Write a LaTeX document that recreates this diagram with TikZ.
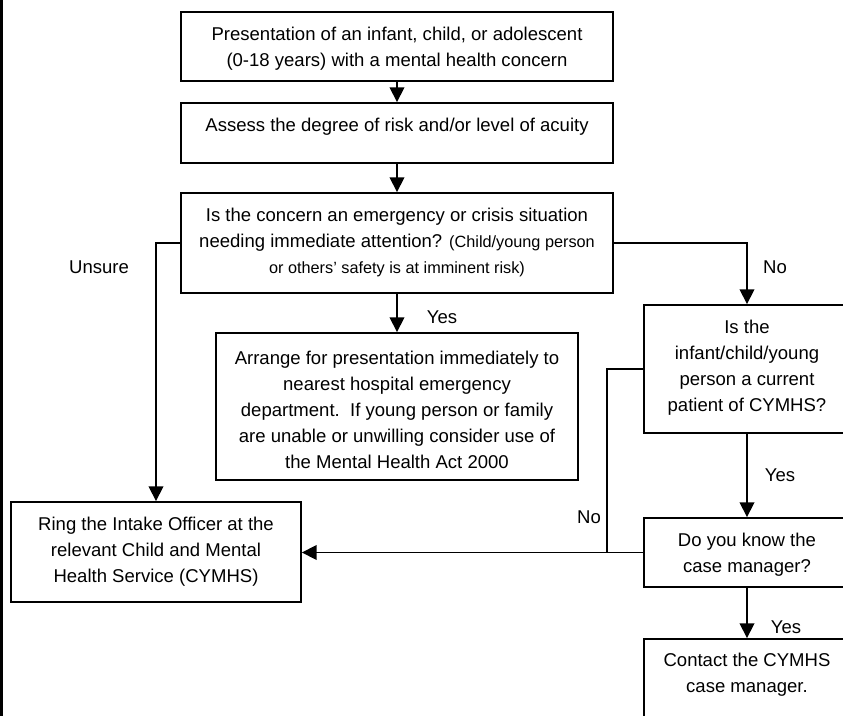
\documentclass[tikz,border=0pt]{standalone}
\usepackage{fontspec}
\setmainfont{Liberation Sans}
\usetikzlibrary{arrows.meta,fit}
\begin{document}
\begin{tikzpicture}[x=0.75pt,y=-0.75pt,
  box/.style={draw, line width=1.4pt, inner sep=0pt},
  txt/.style={align=center, font=\fontsize{13.9}{19.5}\selectfont, inner sep=0pt},
  lbl/.style={font=\fontsize{13.9}{19.5}\selectfont, inner sep=0pt},
  conn/.style={line width=1.2pt},
  arr/.style={conn, -{Triangle[length=11pt,width=11pt]}}]
\useasboundingbox (0,0) rectangle (843,716);
\clip (0,0) rectangle (843,716);
\fill[black] (0,0) rectangle (3,716);
% boxes
\node[box, fit={(181,12) (613,81)}] (b1) {};
\node[box, fit={(181,103) (613,163)}] (b2) {};
\node[box, fit={(181,193) (613,293)}] (b3) {};
\node[box, fit={(216,333) (578,480)}] (ba) {};
\node[box, fit={(11,502) (301,602)}] (br) {};
\node[box, fit={(644,305) (850,433)}] (bi) {};
\node[box, fit={(644,518) (850,587)}] (bd) {};
\node[box, fit={(644,639) (850,760)}] (bc) {};
% texts
\node[txt] (t1) at (397,48.5) {Presentation of an infant, child, or adolescent\\(0-18 years) with a mental health concern};
\node[txt] (t2) at (397,127) {Assess the degree of risk and/or level of acuity};
\node[txt] (t3) at (397,242) {Is the concern an emergency or crisis situation\\needing immediate attention? {\fontsize{12.2}{19.5}\selectfont(Child/young person}\\{\fontsize{12.2}{19.5}\selectfont or others’ safety is at imminent risk)}};
\node[txt] (ta) at (397,410) {Arrange for presentation immediately to\\nearest hospital emergency\\department.\ \ If young person or family\\are unable or unwilling consider use of\\the Mental Health Act 2000};
\node[txt] (tr) at (156,552) {Ring the Intake Officer at the\\relevant Child and Mental\\Health Service (CYMHS)};
\node[txt] (ti) at (747,367.5) {Is the\\infant/child/young\\person a current\\patient of CYMHS?};
\node[txt] (td) at (747,554.5) {Do you know the\\case manager?};
\node[txt] (tc) at (747,675) {Contact the CYMHS\\case manager.};
% connectors
\draw[arr] (b1.south) -- (b2.north);
\draw[arr] (b2.south) -- (b3.north);
\draw[arr] (b3.south) -- (ba.north);
\draw[arr] (b3.west) -| (br.north);
\draw[arr] (b3.east) -| (bi.north);
\draw[arr] (bi.south) -- (bd.north);
\draw[arr] (bd.south) -- (bc.north);
\coordinate (jn) at (607,552.5);
\draw[conn] (bi.west) -| (jn);
\draw[arr] (bd.west) -- (br.east |- bd.west);
% labels
\node[lbl] (lu) at (99,267) {Unsure};
\node[lbl] (ln1) at (775,267) {No};
\node[lbl] (ly1) at (442,317) {Yes};
\node[lbl] (ly2) at (780,475) {Yes};
\node[lbl] (ln2) at (589,517) {No};
\node[lbl] (ly3) at (786,627) {Yes};
\end{tikzpicture}
\end{document}
